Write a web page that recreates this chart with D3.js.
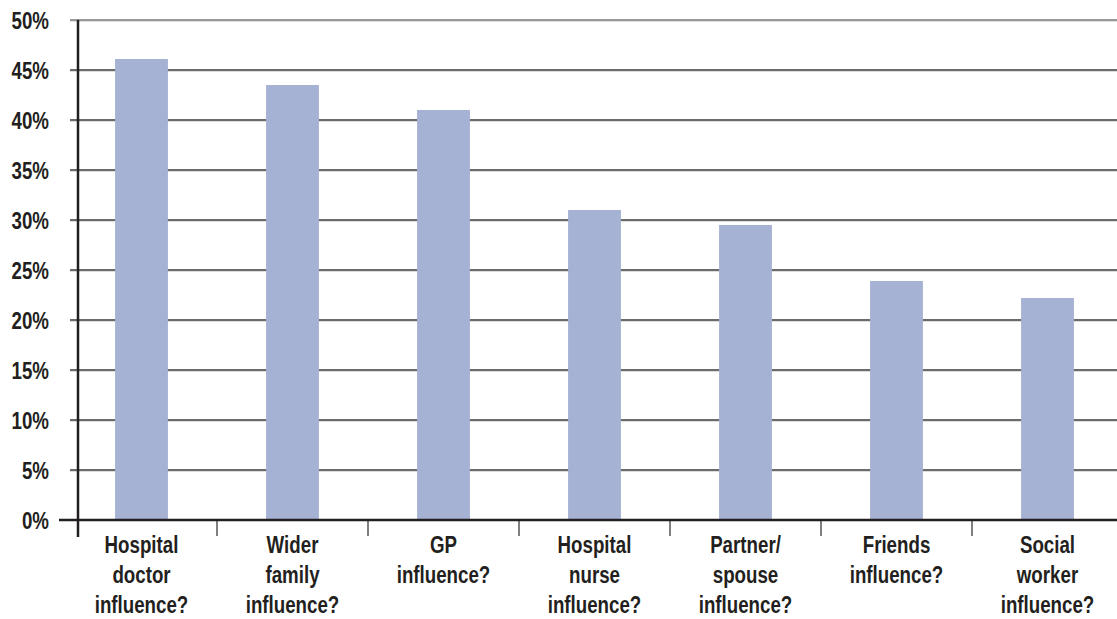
<!DOCTYPE html>
<meta charset="utf-8">
<style>
body { margin: 0; background: #fff; }
svg text { font-family: "Liberation Sans", Arial, sans-serif; font-weight: bold; fill: #231f20; }
</style>
<body>
<svg width="1117" height="619"></svg>
<script src="https://cdn.jsdelivr.net/npm/d3@7"></script>
<script>

var categories = [
  ["Hospital","doctor","influence?"],
  ["Wider","family","influence?"],
  ["GP","influence?"],
  ["Hospital","nurse","influence?"],
  ["Partner/","spouse","influence?"],
  ["Friends","influence?"],
  ["Social","worker","influence?"]
];
var values = [46.1, 43.5, 41.0, 31.0, 29.5, 23.9, 22.2];
var yTicks = [0, 5, 10, 15, 20, 25, 30, 35, 40, 45, 50];

var svg = d3.select("svg");
var squeeze = 0.78; // condensed look

var x = d3.scaleBand().domain(d3.range(categories.length)).range([66, 1123]).paddingInner(0.65).paddingOuter(0.325);
var band = d3.scaleBand().domain(d3.range(categories.length)).range([66, 1123]);
var y = d3.scaleLinear().domain([0, 50]).range([520, 20]);

// gridlines
svg.append("g").selectAll("line").data(yTicks.filter(d => d > 0)).enter().append("line")
  .attr("x1", 70).attr("x2", 1117)
  .attr("y1", d => y(d)).attr("y2", d => y(d))
  .attr("stroke", d => d == 50 ? "#777" : "#3a3a3a").attr("stroke-width", 1.5);
svg.append("g").selectAll("line").data(yTicks.filter(d => d > 0)).enter().append("line")
  .attr("x1", 70).attr("x2", 1117)
  .attr("y1", d => y(d) + 1.5).attr("y2", d => y(d) + 1.5)
  .attr("stroke", "#ddd").attr("stroke-width", 1);

// bars
svg.append("g").selectAll("rect").data(values).enter().append("rect")
  .attr("x", (d, i) => x(i)).attr("width", x.bandwidth())
  .attr("y", d => y(d)).attr("height", d => y(0) - y(d))
  .attr("fill", "#a6b2d4");

// x ticks between categories
svg.append("g").selectAll("line").data(d3.range(1, categories.length)).enter().append("line")
  .attr("x1", i => band(i)).attr("x2", i => band(i))
  .attr("y1", y(0)).attr("y2", y(0) + 16)
  .attr("stroke", "#555").attr("stroke-width", 1.5);

// axes
svg.append("line").attr("x1", 59).attr("x2", 1117).attr("y1", y(0)).attr("y2", y(0))
  .attr("stroke", "#231f20").attr("stroke-width", 2.5);
svg.append("line").attr("x1", 78).attr("x2", 78).attr("y1", y(50)).attr("y2", 537)
  .attr("stroke", "#231f20").attr("stroke-width", 2.5);

// y labels
svg.append("g").selectAll("text").data(yTicks).enter().append("text")
  .attr("transform", d => "translate(49," + y(d) + ") scale(" + squeeze + ",1)")
  .attr("dy", "0.36em")
  .attr("text-anchor", "end").style("font-size", "24px")
  .text(d => d + "%");

// x labels
var xl = svg.append("g").selectAll("text").data(categories).enter().append("text")
  .attr("text-anchor", "middle").style("font-size", "24px")
  .attr("transform", (d, i) => "translate(" + (band(i) + band.bandwidth() / 2) + ",553) scale(" + squeeze + ",1)");
xl.selectAll("tspan").data(d => d).enter().append("tspan")
  .attr("x", 0).attr("dy", (d, j) => j == 0 ? 0 : 30)
  .text(d => d);

</script>
